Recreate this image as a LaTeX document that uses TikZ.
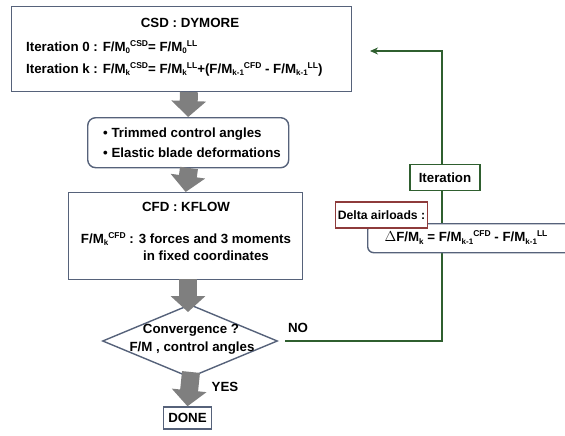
\documentclass[tikz,border=0pt]{standalone}
\usepackage{fontspec}
\setmainfont{Liberation Sans}
\usetikzlibrary{shapes.geometric,arrows.meta}
\definecolor{boxblue}{HTML}{56627A}
\definecolor{itgreen}{HTML}{2F5F2F}
\definecolor{delred}{HTML}{8E3B3B}
\definecolor{fatgray}{HTML}{7F7F7F}
\newcommand\Sb[1]{\raisebox{-0.35ex}{\fontsize{8}{8}\selectfont #1}}
\newcommand\Sp[1]{\raisebox{0.7ex}{\fontsize{8.5}{9}\selectfont #1}}
\tikzset{
  every node/.style={font=\fontsize{13.3}{15}\selectfont\bfseries, inner sep=0pt},
  boxstyle/.style={draw=boxblue, line width=1.4pt, fill=white},
  roundbox/.style={boxstyle, rounded corners=8pt},
  fatarrow/.style={draw=fatgray, line width=18pt, -{Triangle[width=34pt,length=16pt]}},
  greenline/.style={draw=itgreen, line width=1.6pt},
  itbox/.style={draw=itgreen, line width=1.4pt, fill=white},
  delbox/.style={draw=delred, line width=1.4pt, fill=white},
  txt/.style={text=black}
}
\begin{document}
\begin{tikzpicture}[x=1pt,y=-1pt]
\useasboundingbox (0,0) rectangle (565,436);

% feedback connector
\coordinate (nostart) at (285,341);
\coordinate (corner) at (442,51);
\coordinate (arrowend) at (370,51);
\draw[greenline, -{Stealth[length=8pt,width=7pt]}] (nostart) -| (corner) -- (arrowend);

% top box
\node[boxstyle, minimum width=340, minimum height=85, anchor=north west] (csd) at (11,6) {};
\node[txt] (csdtitle) at (190,23) {CSD : DYMORE};
\node[txt, anchor=west] (csdl1) at (26,47) {Iteration 0 : F/M\Sb{0}\Sp{CSD}= F/M\Sb{0}\Sp{LL}};
\node[txt, anchor=west] (csdl2) at (26,69) {Iteration k : F/M\Sb{k}\Sp{CSD}= F/M\Sb{k}\Sp{LL}+(F/M\Sb{k-1}\Sp{CFD} - F/M\Sb{k-1}\Sp{LL})};

% rounded box
\node[roundbox, minimum width=201, minimum height=50, anchor=north west] (trim) at (87,117) {};
\node[txt, anchor=west] (trim1) at (103,134) {• Trimmed control angles};
\node[txt, anchor=west] (trim2) at (103,153) {• Elastic blade deformations};

% CFD box
\node[boxstyle, minimum width=234, minimum height=87, anchor=north west] (cfd) at (68,192) {};
\node[txt] (cfdtitle) at (186,207) {CFD : KFLOW};
\node[txt] (cfdl1) at (186,239) {F/M\Sb{k}\Sp{CFD} : 3 forces and 3 moments};
\node[txt] (cfdl2) at (206,256) {in fixed coordinates};

% diamond
\node[diamond, draw=boxblue, line width=1.4pt, fill=white, minimum width=175, minimum height=73] (conv) at (190,341) {};
\node[txt] (conv1) at (191,330) {Convergence ?};
\node[txt] (conv2) at (192,348) {F/M , control angles};

% DONE
\node[boxstyle, minimum width=48, minimum height=22] (done) at (187.5,418) {DONE};

% fat arrows
\draw[fatarrow] (189,92) -- (trim.north);
\draw[fatarrow] (189,168) -- (cfd.north);
\draw[fatarrow] (188,279) -- (188,312);
\draw[fatarrow] (191,372) -- (done.north);

% labels
\node[txt] (nolbl) at (298,328) {NO};
\node[txt] (yeslbl) at (225,387) {YES};

% iteration / delta boxes
\node[itbox, minimum width=70, minimum height=26] (iter) at (445,177.5) {Iteration};
\node[boxstyle, rounded corners=6pt, minimum width=205, minimum height=29, anchor=north west] (formula) at (367,223) {};
\node[txt] (formtxt) at (466,237.5) {$\Delta$F/M\Sb{k} = F/M\Sb{k-1}\Sp{CFD} - F/M\Sb{k-1}\Sp{LL}};
\node[delbox, minimum width=92, minimum height=26, font=\fontsize{12.2}{14}\selectfont\bfseries] (delta) at (381.5,215) {Delta airloads :};
\end{tikzpicture}
\end{document}
